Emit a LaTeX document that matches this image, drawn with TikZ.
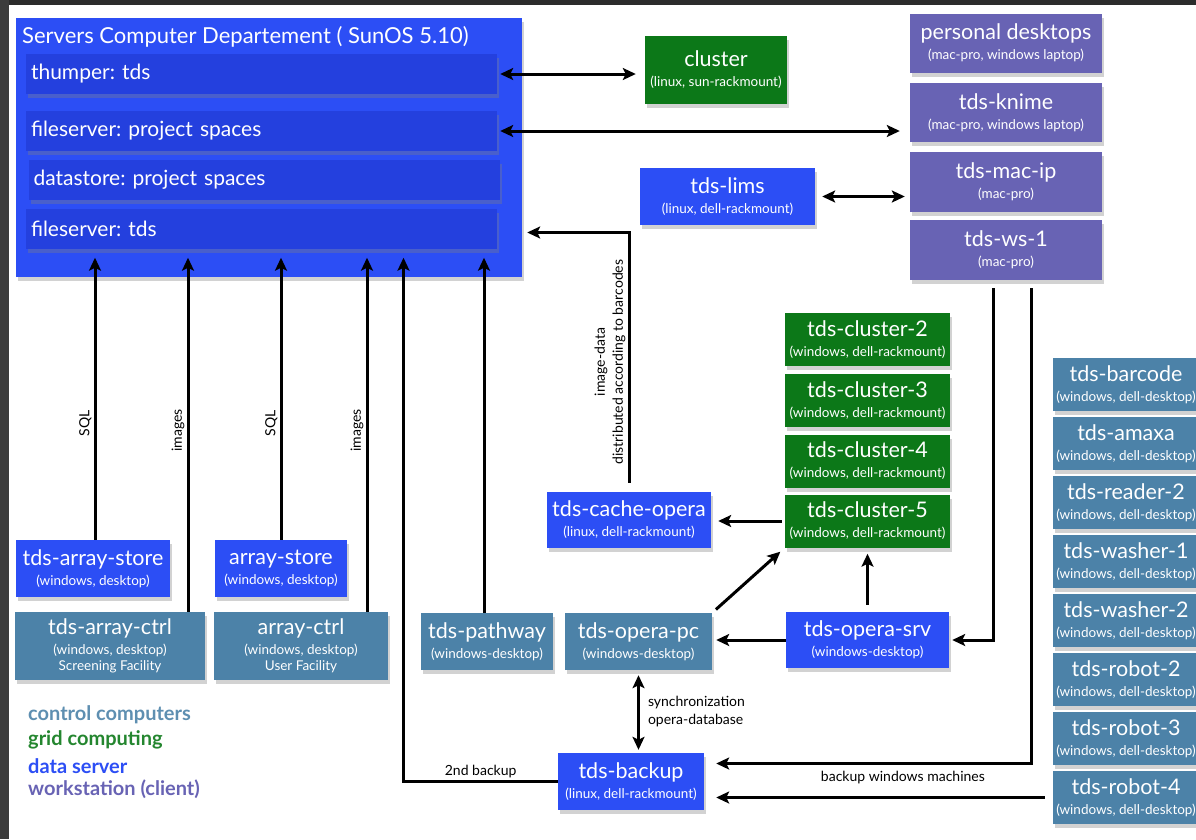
\documentclass[tikz,border=0pt]{standalone}
\usepackage{fontspec}
\setmainfont{Lato}
\usepackage{xcolor}
\usepackage{tikz}
\usetikzlibrary{arrows.meta, positioning, calc, shadows}
\definecolor{DatBlue}  {RGB}{44, 78, 245}
\definecolor{SubBlue}  {RGB}{36, 64, 222}
\definecolor{GridGreen}{RGB}{12,120, 24}
\definecolor{WsPurple} {RGB}{104,99,180}
\definecolor{CtrlTeal} {RGB}{76,130,168}
\definecolor{FrameTop} {RGB}{44, 44, 44}
\definecolor{FrameSide}{RGB}{60, 60, 60}
\newcommand{\hostlbl}[2]{{\fontsize{21.5}{20}\selectfont #1}\\#2}
\frenchspacing

\begin{document}
\begin{tikzpicture}[
      x=1pt, y=-1pt,
      box/.style  ={text=white, inner sep=0pt, align=center,
                    font=\fontsize{13.5}{20}\selectfont,
                    drop shadow={shadow xshift=2pt,shadow yshift=-4pt,opacity=0.35}},
      sz/.style 2 args={minimum width=#1pt, minimum height=#2pt},
      dserv/.style={box, fill=DatBlue},
      gridc/.style={box, fill=GridGreen},
      wstat/.style={box, fill=WsPurple},
      ctrl/.style ={box, fill=CtrlTeal},
      sub/.style  ={box, fill=SubBlue, minimum width=471pt, minimum height=40pt,
                    text width=461pt, align=left, font=\fontsize{21}{22}\selectfont},
      fl/.style   ={-{Stealth[length=13pt,width=12pt,inset=3pt]}, line width=3pt},
      fld/.style  ={fl, {Stealth[length=13pt,width=12pt,inset=3pt]}-{Stealth[length=13pt,width=12pt,inset=3pt]}},
      lbl/.style  ={font=\fontsize{14}{18}\selectfont, text=black, inner sep=2pt},
      leg/.style  ={font=\fontsize{20}{22}\selectfont\bfseries, anchor=west, inner sep=0pt}]
      \useasboundingbox (0,0) rectangle (1196,839);
      \fill[white] (0,0) rectangle (1196,839);
      \fill[FrameTop] (0,0) rectangle (1196,5);
      \fill[FrameSide] (0,0) rectangle (9,839);

      \node[dserv, sz={506}{259}] (srv) at (269,147.5) {};
      \node[anchor=west, text=white, inner sep=0pt, font=\fontsize{22}{24}\selectfont]
        (srvtit) at (22,37) {Servers Computer Departement ( SunOS 5.10)};
      \node[sub] (thump)  at (261.5,74)    {thumper: tds};
      \node[sub] (fsproj) at (261.5,131)   {fileserver: project spaces};
      \node[sub] (dstore) at (264,179.5)   {datastore: project spaces};
      \node[sub] (fstds)  at (261.5,228.5) {fileserver: tds};

      \node[gridc, sz={142}{68}] (clus)  at (716,70)      {\hostlbl{cluster}{(linux, sun-rackmount)}};
      \node[dserv, sz={175}{57}] (lims)  at (727.5,196.5) {\hostlbl{tds-lims}{(linux, dell-rackmount)}};
      \node[wstat, sz={192}{59}] (pdesk) at (1006,43)     {\hostlbl{personal desktops}{(mac-pro, windows laptop)}};
      \node[wstat, sz={192}{59}] (knime) at (1006,112.5)  {\hostlbl{tds-knime}{(mac-pro, windows laptop)}};
      \node[wstat, sz={192}{60}] (macip) at (1006,182)    {\hostlbl{tds-mac-ip}{(mac-pro)}};
      \node[wstat, sz={192}{60}] (ws1)   at (1006,250)    {\hostlbl{tds-ws-1}{(mac-pro)}};

      \foreach \n/\y in {2/339.5,3/400.5,4/461,5/521}
        \node[gridc, sz={165}{53}] (cl\n) at (867.5,\y) {\hostlbl{tds-cluster-\n}{(windows, dell-rackmount)}};
      \foreach \n [count=\i from 0] in {barcode,amaxa,reader-2,washer-1,washer-2,robot-2,robot-3,robot-4}
        \node[ctrl, sz={146}{53}] (r\i) at (1126,384.5+59*\i) {\hostlbl{tds-\n}{(windows, dell-desktop)}};

      \node[dserv, sz={164}{56}] (cache)   at (629,520)     {\hostlbl{tds-cache-opera}{(linux, dell-rackmount)}};
      \node[dserv, sz={154}{57}] (tastore) at (93,568.5)    {\hostlbl{tds-array-store}{(windows, desktop)}};
      \node[dserv, sz={132}{57}] (astore)  at (281,568.5)   {\hostlbl{array-store}{(windows, desktop)}};
      \node[ctrl,  sz={190}{68}] (tactrl)  at (110,646)     {\hostlbl{tds-array-ctrl}{(windows, desktop)\\[-4pt]Screening Facility}};
      \node[ctrl,  sz={174}{68}] (actrl)   at (301,646)     {\hostlbl{array-ctrl}{(windows, desktop)\\[-4pt]User Facility}};
      \node[ctrl,  sz={132}{57}] (pathw)   at (487,641.5)   {\hostlbl{tds-pathway}{(windows-desktop)}};
      \node[ctrl,  sz={147}{57}] (opc)     at (638.5,641.5) {\hostlbl{tds-opera-pc}{(windows-desktop)}};
      \node[dserv, sz={163}{56}] (osrv)    at (867.5,640)   {\hostlbl{tds-opera-srv}{(windows-desktop)}};
      \node[dserv, sz={146}{57}] (backup)  at (631,781.5)   {\hostlbl{tds-backup}{(linux, dell-rackmount)}};

      \node[leg, text=CtrlTeal!90]  (lg1) at (28,715) {control computers};
      \node[leg, text=GridGreen!90] (lg2) at (28,740) {grid computing};
      \node[leg, text=DatBlue]      (lg3) at (28,766) {data server};
      \node[leg, text=WsPurple]     (lg4) at (28,789) {workstation (client)};

      \draw[fld, shorten <=3pt, shorten >=9pt]  (thump.east)  -- (thump.east -| clus.west);
      \draw[fld, shorten <=3pt, shorten >=10pt] (fsproj.east) -- (fsproj.east -| knime.west);
      \draw[fld, shorten <=7pt, shorten >=5pt]  (lims.east)   -- (lims.east -| macip.west);
      \foreach \s/\dx/\t/\p in {tastore/2/SQL/0.4,astore/0/SQL/0.4,tactrl/78/images/0.5,actrl/66/images/0.5}
        \draw[fl, shorten >=9pt] ([xshift=\dx pt]\s.north) -- ([xshift=\dx pt]\s.north |- fstds.south)
          node[lbl, pos=\p, sloped, above] {\t};
      \draw[fl, shorten >=9pt] ([xshift=-3pt]pathw.north) -- ([xshift=-3pt]pathw.north |- fstds.south);
      \draw[fl, shorten >=9pt] (backup.west) -| ([xshift=142pt]fstds.south)
        node[lbl, pos=0.25, above] {2nd backup};
      \draw[fl, shorten <=9pt, shorten >=5pt] (cache.north) |- ([yshift=-4pt]fstds.east -| srv.east)
        node[lbl, pos=0.25, sloped, above, align=center] {image-data\\distributed according to barcodes};
      \draw[fl, shorten <=3pt, shorten >=7pt] (cl5.west) -- (cl5.west -| cache.east);
      \draw[fl, shorten <=5pt, shorten >=6pt] (opc.north east) -- (cl5.south west);
      \draw[fl, shorten <=7pt, shorten >=6pt] (osrv.north) -- (osrv.north |- cl5.south);
      \draw[fl, shorten >=4pt] (osrv.west) -- (osrv.west -| opc.east);
      \draw[fl, shorten <=8pt, shorten >=3pt] ([xshift=-13pt]ws1.south) |- (osrv.east);
      \draw[fl, shorten <=8pt, shorten >=12pt] ([xshift=25pt]ws1.south) |- ([yshift=18pt]backup.east);
      \draw[fl, shorten <=8pt, shorten >=12pt] (r7.west) -- (r7.west -| backup.east)
        node[lbl, pos=0.43, above=10pt] {backup windows machines};
      \draw[fld, shorten <=5pt, shorten >=3pt] (opc.south) -- (opc.south |- backup.north)
        node[lbl, midway, right=6pt, align=left] {synchronization\\opera-database};
\end{tikzpicture}
\end{document}
